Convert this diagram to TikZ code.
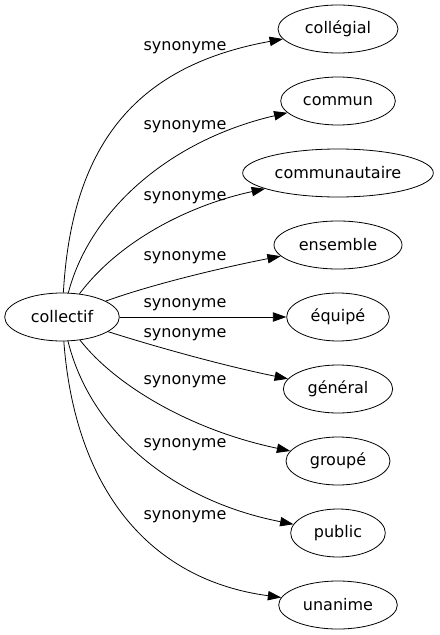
\documentclass[tikz,border=0pt]{standalone}
\usepackage{fontspec}
\setmainfont{DejaVu Sans}
\usetikzlibrary{arrows.meta,positioning,shapes.geometric}

\begin{document}
\begin{tikzpicture}[x=0.75pt,y=-0.75pt,>={Triangle[length=10pt,width=7pt]},line width=0.6pt,node distance=17.4pt,
  main node/.style={ellipse,draw,inner sep=0pt,minimum height=36pt,font=\fontsize{12}{14}\selectfont},
  syn/.style={font=\fontsize{12}{14}\selectfont,inner sep=0pt}]
  \useasboundingbox (0,0) rectangle (439,635);
  \node[main node,minimum width=86pt] (collectif) at (62,317) {collectif};
  \node[main node,minimum width=90pt] (collegial) at (338,29) {collégial};
  \node[main node,minimum width=86pt] (commun) [below=of collegial] {commun};
  \node[main node,minimum width=143pt] (communautaire) [below=of commun] {communautaire};
  \node[main node,minimum width=96pt] (ensemble) [below=of communautaire] {ensemble};
  \node[main node,minimum width=77pt] (equipe) [below=of ensemble] {équipé};
  \node[main node,minimum width=82pt] (general) [below=of equipe] {général};
  \node[main node,minimum width=78pt] (groupe) [below=of general] {groupé};
  \node[main node,minimum width=71pt] (public) [below=of groupe] {public};
  \node[main node,minimum width=89pt] (unanime) [below=of public] {unanime};

  % labels
  \node[syn] (s1) at (185,48) {synonyme};
  \node[syn] (s2) at (185,127) {synonyme};
  \node[syn] (s3) at (185,198) {synonyme};
  \node[syn] (s4) at (185,258) {synonyme};
  \node[syn] (s5) at (185,305) {synonyme};
  \node[syn] (s6) at (185,335) {synonyme};
  \node[syn] (s7) at (185,382) {synonyme};
  \node[syn] (s8) at (185,445) {synonyme};
  \node[syn] (s9) at (185,517) {synonyme};

  \draw[->] (collectif) .. controls (72,140) and (140,65) .. (collegial);
  \draw[->] (collectif) .. controls (90,210) and (170,140) .. (commun);
  \draw[->] (collectif) .. controls (120,240) and (190,205) .. (communautaire);
  \draw[->] (collectif) .. controls (150,285) and (220,268) .. (ensemble);
  \draw[->] (collectif) -- (equipe);
  \draw[->] (collectif) .. controls (150,345) and (220,365) .. (general);
  \draw[->] (collectif) .. controls (115,385) and (190,430) .. (groupe);
  \draw[->] (collectif) .. controls (90,430) and (170,500) .. (public);
  \draw[->] (collectif) .. controls (75,490) and (150,580) .. (unanime);
\end{tikzpicture}
\end{document}
